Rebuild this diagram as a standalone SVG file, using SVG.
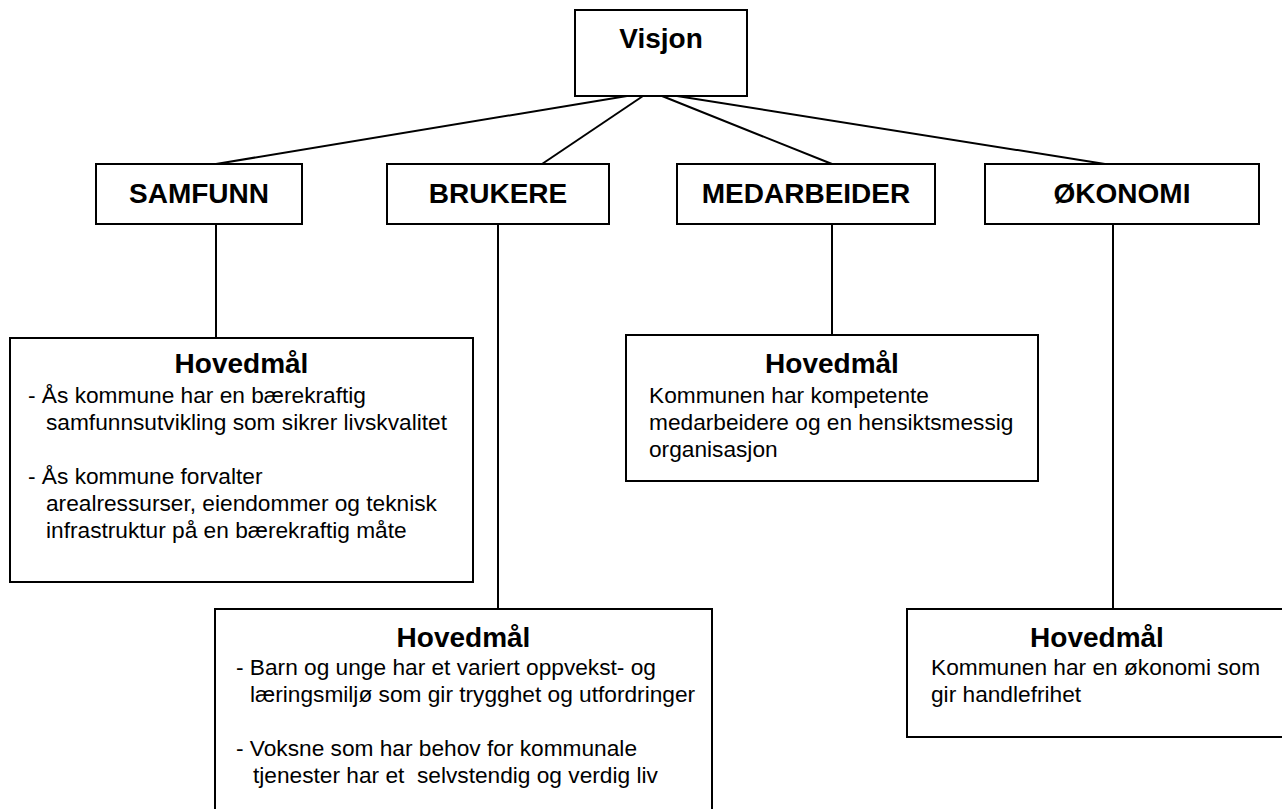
<svg xmlns="http://www.w3.org/2000/svg" width="1282" height="809" viewBox="0 0 1282 809">
<style>
.box{fill:#fff;stroke:#000;stroke-width:2}
.lbl{font-family:"Liberation Sans",Arial,sans-serif;font-weight:bold;font-size:28px;fill:#000;text-anchor:middle}
.txt{font-family:"Liberation Sans",Arial,sans-serif;font-size:22.7px;fill:#000;white-space:pre}
.con{stroke:#000;stroke-width:2;fill:none}
</style>
<rect x="0" y="0" width="1282" height="809" fill="#fff"/>
<g id="connectors">
<line class="con" x1="627" y1="96" x2="216" y2="164"/>
<line class="con" x1="643" y1="96" x2="542" y2="164"/>
<line class="con" x1="662" y1="96" x2="832" y2="164"/>
<line class="con" x1="677" y1="96" x2="1105" y2="164"/>
<line class="con" x1="216" y1="224" x2="216" y2="338"/>
<line class="con" x1="498" y1="224" x2="498" y2="609"/>
<line class="con" x1="832" y1="224" x2="832" y2="335"/>
<line class="con" x1="1113" y1="224" x2="1113" y2="609"/>
</g>
<g id="visjon">
<rect class="box" x="575" y="10" width="172" height="86"/>
<text class="lbl" x="661" y="48">Visjon</text>
</g>
<g id="samfunn">
<rect class="box" x="96" y="164" width="206" height="60"/>
<text class="lbl" x="199" y="203">SAMFUNN</text>
</g>
<g id="brukere">
<rect class="box" x="387" y="164" width="222" height="60"/>
<text class="lbl" x="498" y="203">BRUKERE</text>
</g>
<g id="medarbeider">
<rect class="box" x="677" y="164" width="258" height="60"/>
<text class="lbl" x="806" y="203">MEDARBEIDER</text>
</g>
<g id="okonomi">
<rect class="box" x="985" y="164" width="274" height="60"/>
<text class="lbl" x="1122" y="203">ØKONOMI</text>
</g>
<g id="mal-samfunn">
<rect class="box" x="10" y="338" width="463" height="244"/>
<text class="lbl" x="241.5" y="373">Hovedmål</text>
<text class="txt" x="28" y="403">- Ås kommune har en bærekraftig</text>
<text class="txt" x="46" y="430">samfunnsutvikling som sikrer livskvalitet</text>
<text class="txt" x="28" y="484">- Ås kommune forvalter</text>
<text class="txt" x="46" y="511">arealressurser, eiendommer og teknisk</text>
<text class="txt" x="46" y="538">infrastruktur på en bærekraftig måte</text>
</g>
<g id="mal-medarbeider">
<rect class="box" x="626" y="335" width="412" height="146"/>
<text class="lbl" x="832" y="373">Hovedmål</text>
<text class="txt" x="649" y="403">Kommunen har kompetente</text>
<text class="txt" x="649" y="430">medarbeidere og en hensiktsmessig</text>
<text class="txt" x="649" y="457">organisasjon</text>
</g>
<g id="mal-brukere">
<rect class="box" x="215" y="609" width="497" height="210"/>
<text class="lbl" x="463.5" y="647">Hovedmål</text>
<text class="txt" x="236" y="675">- Barn og unge har et variert oppvekst- og</text>
<text class="txt" x="250" y="702">læringsmiljø som gir trygghet og utfordringer</text>
<text class="txt" x="236" y="756">- Voksne som har behov for kommunale</text>
<text class="txt" x="253" y="783">tjenester har et  selvstendig og verdig liv</text>
</g>
<g id="mal-okonomi">
<rect class="box" x="907" y="609" width="380" height="128"/>
<text class="lbl" x="1097" y="647">Hovedmål</text>
<text class="txt" x="931" y="675">Kommunen har en økonomi som</text>
<text class="txt" x="931" y="702">gir handlefrihet</text>
</g>
</svg>
